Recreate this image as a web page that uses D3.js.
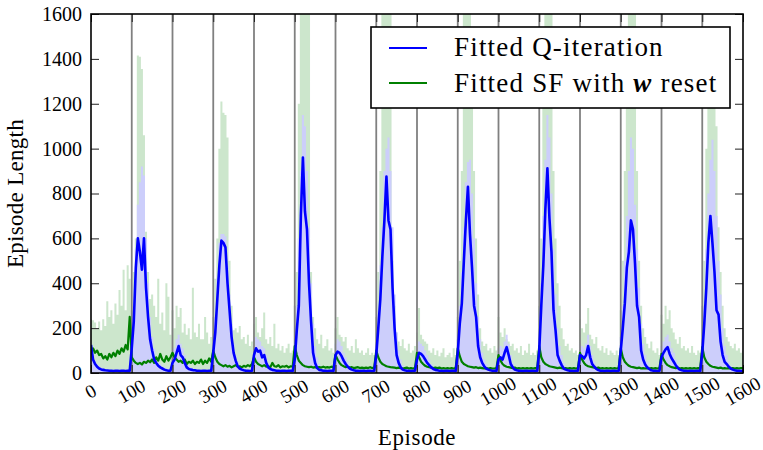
<!DOCTYPE html>
<html>
<head>
<meta charset="utf-8">
<script src="https://cdn.jsdelivr.net/npm/d3@7"></script>
<style>
  body { margin: 0; background: #fff; }
  svg { display: block; }
  text { font-family: "Liberation Serif", "Times New Roman", serif; fill: #000; }
</style>
</head>
<body>
<svg id="chart" width="763" height="450"></svg>
<script>
// episodes are sampled every 5 steps
const episodes = d3.range(0, 1601, 5);

// Fitted Q-iteration: mean episode length
const qMean = [
  125,60,40,28,20,16,14,12,11,10,10,9,10,10,9,10,10,9,10,9,
  110,230,470,600,540,460,600,380,250,150,100,60,45,32,25,20,15,12,10,10,
  45,60,90,120,80,70,45,25,18,15,13,12,10,10,9,10,10,9,10,10,
  90,180,330,480,590,580,560,400,280,160,90,55,30,20,15,12,10,10,9,10,
  80,110,95,100,70,80,45,25,18,14,12,10,10,9,10,10,9,10,10,9,
  60,190,300,700,960,720,640,400,230,90,45,22,14,12,10,10,9,10,10,9,
  80,95,90,75,55,40,28,20,15,12,10,10,9,10,10,9,10,10,9,10,
  80,200,330,520,680,875,680,640,380,200,80,45,25,15,12,10,10,9,10,10,
  60,90,85,75,60,45,35,25,18,14,12,10,10,9,10,10,9,10,10,9,
  90,220,310,500,680,830,620,470,300,250,120,70,45,30,20,15,12,10,10,9,
  60,70,60,90,115,80,40,25,15,12,10,10,9,10,10,9,10,10,9,10,
  100,300,480,730,912,690,540,280,190,80,55,35,20,15,12,10,10,9,10,10,
  80,75,65,80,120,70,40,28,18,13,10,10,9,10,10,9,10,10,9,10,
  100,200,310,470,540,680,640,490,300,250,100,60,38,25,18,12,10,10,9,10,
  70,90,105,115,85,65,50,35,22,15,12,10,10,9,10,10,9,10,10,9,
  90,220,380,580,700,580,450,280,260,140,80,50,40,28,20,15,12,10,10,9,
  10
];

// Fitted Q-iteration: top of the shaded band
const qUpper = [
  140,80,55,40,30,25,20,18,16,15,15,15,15,15,15,15,15,15,15,15,
  150,300,550,750,850,920,880,600,400,250,160,110,70,50,40,30,25,20,18,16,
  80,110,150,170,130,110,80,50,35,25,20,18,15,15,15,15,15,15,15,15,
  150,250,420,580,620,620,610,480,350,220,130,80,50,35,25,20,16,15,15,15,
  120,160,150,140,120,110,80,45,30,22,18,15,15,15,15,15,15,15,15,15,
  120,300,600,900,1150,1100,900,650,400,220,120,70,40,25,18,15,15,15,15,15,
  130,150,140,120,90,70,50,35,25,20,16,15,15,15,15,15,15,15,15,15,
  130,280,480,650,900,1000,1050,900,650,350,180,100,60,35,25,18,15,15,15,15,
  110,140,130,120,100,80,60,40,30,22,18,15,15,15,15,15,15,15,15,15,
  150,300,450,650,850,940,950,800,600,400,250,150,90,60,40,25,18,15,15,15,
  110,120,110,140,170,130,80,45,28,20,16,15,15,15,15,15,15,15,15,15,
  160,400,700,950,1150,1050,800,550,350,200,120,80,45,30,20,16,15,15,15,15,
  130,120,110,130,170,120,80,50,30,20,16,15,15,15,15,15,15,15,15,15,
  160,300,500,700,900,1050,1000,750,550,380,220,130,80,50,30,20,16,15,15,15,
  120,140,160,170,140,110,90,60,40,25,18,15,15,15,15,15,15,15,15,15,
  150,300,550,800,950,1040,900,700,500,350,200,120,80,50,30,22,18,15,15,15,
  15
];

// Fitted SF with w reset: mean episode length
const sfMean = [
  95,110,90,100,80,85,65,75,60,85,70,90,75,100,85,110,95,125,105,250,
  70,55,45,40,45,38,50,45,55,48,60,45,70,55,85,60,50,75,55,70,
  90,70,60,50,55,45,60,40,50,45,55,40,50,45,60,40,55,45,65,50,
  100,70,50,40,35,30,35,28,32,25,30,35,28,30,25,32,28,35,30,40,
  70,50,40,35,30,35,28,30,25,45,30,28,35,25,30,28,32,25,30,28,
  120,80,55,45,35,30,28,26,28,24,26,24,26,24,28,24,26,24,28,24,
  80,60,45,35,30,26,28,24,26,22,24,26,22,24,22,24,22,26,22,24,
  100,70,50,40,35,30,28,26,25,24,22,24,22,20,22,24,20,22,20,22,
  90,70,50,40,32,28,26,24,22,24,22,24,20,22,20,22,20,22,20,22,
  110,75,50,40,35,30,28,26,24,26,22,24,22,20,22,20,22,20,20,22,
  80,55,40,32,28,26,24,22,24,20,22,20,22,20,22,20,22,20,22,20,
  120,70,50,40,35,30,28,26,24,22,24,22,20,22,20,22,20,22,20,22,
  90,60,45,35,30,28,26,24,22,24,20,22,20,22,20,22,20,22,20,22,
  110,70,50,40,32,28,26,24,22,24,20,22,20,22,20,22,20,22,20,22,
  85,60,45,35,30,26,24,22,24,20,22,20,22,20,22,20,22,20,22,20,
  115,70,50,40,32,28,26,24,22,24,20,22,20,22,20,22,20,22,20,22,
  22
];

// Fitted SF with w reset: top of the shaded band
const sfUpper = [
  240,235,225,200,230,190,240,210,320,250,280,220,310,260,370,300,460,280,480,420,
  280,450,600,1415,1410,1355,1060,630,450,330,350,300,250,420,220,270,190,400,340,170,
  280,200,300,250,290,180,220,170,200,150,380,180,160,220,150,150,250,180,130,160,
  250,420,600,1000,1210,1160,1150,1050,500,300,190,200,180,210,150,160,130,170,120,140,
  220,250,180,160,200,270,150,130,160,120,220,110,130,100,120,90,110,130,90,100,
  300,450,1200,1700,1700,1700,1700,1700,450,250,200,150,130,170,110,120,150,100,110,90,
  200,250,170,160,140,160,110,100,120,90,150,110,90,100,80,90,110,80,90,80,
  250,450,900,1700,1700,1700,1700,1700,500,300,180,140,120,150,110,100,130,90,100,120,
  180,290,170,150,140,130,100,90,110,80,100,75,90,110,70,80,90,70,110,80,
  250,500,900,1700,1700,1700,1700,1300,900,600,350,200,140,120,130,100,110,90,120,100,
  250,180,160,200,150,140,120,130,100,110,90,120,80,100,90,130,80,90,80,100,
  300,600,1300,1700,1700,1700,1700,900,600,400,300,200,150,120,130,100,110,90,100,80,
  240,200,180,220,290,170,150,130,160,110,100,120,90,110,80,100,90,80,100,80,
  280,500,900,1400,1700,1700,1700,1700,900,500,300,200,160,130,110,140,100,90,110,80,
  260,220,300,240,280,200,180,150,130,160,110,120,100,110,90,120,90,80,100,90,
  300,500,1000,1450,1450,1400,1300,1100,650,450,300,200,160,140,120,110,130,100,110,90,
  100
];

const xTicks = d3.range(0, 1601, 100);
const yTicks = d3.range(0, 1601, 200);
const resets = d3.range(100, 1600, 100);
const legendNames = ["Fitted Q-iteration", "Fitted SF with ", " reset"];

const svg = d3.select("#chart");
const plotLeft = 91, plotRight = 743, plotTop = 14, plotBottom = 373;
const serif = "Liberation Serif";

const x = d3.scaleLinear().domain([0, 1600]).range([plotLeft, plotRight]);
const y = d3.scaleLinear().domain([0, 1600]).range([plotBottom, plotTop]);

svg.append("clipPath").attr("id", "plotclip")
   .append("rect")
   .attr("x", plotLeft).attr("y", plotTop)
   .attr("width", plotRight - plotLeft).attr("height", plotBottom - plotTop);

const plot = svg.append("g").attr("clip-path", "url(#plotclip)");

// shaded bands (blue drawn on top, like the reference)
const band = d3.area()
    .x((d, i) => x(episodes[i]))
    .y0(y(0))
    .y1(d => y(d))
    .curve(d3.curveStep);

plot.append("path").datum(sfUpper)
    .attr("d", band)
    .attr("fill", "#008000").attr("fill-opacity", 0.2);

plot.append("path").datum(qUpper)
    .attr("d", band)
    .attr("fill", "#ccccff").attr("fill-opacity", 0.92);

// reset markers every 100 episodes
plot.selectAll(".reset")
    .data(resets)
    .enter()
    .append("line")
    .attr("class", "reset")
    .attr("x1", d => x(d)).attr("x2", d => x(d))
    .attr("y1", plotTop).attr("y2", plotBottom)
    .attr("stroke", "#808080").attr("stroke-width", 1.8);

const line = d3.line()
    .x((d, i) => x(episodes[i]))
    .y(d => y(d));

plot.append("path").datum(sfMean)
    .attr("d", line)
    .attr("fill", "none")
    .attr("stroke", "#008000").attr("stroke-width", 2.2)
    .attr("stroke-linejoin", "round");

plot.append("path").datum(qMean)
    .attr("d", line)
    .attr("fill", "none")
    .attr("stroke", "#0000ff").attr("stroke-width", 2.6)
    .attr("stroke-linejoin", "round");

// axes with inward ticks on all four sides
function styleAxis(g) {
  g.attr("font-family", serif).attr("font-size", 20);
  g.select(".domain").remove();
  g.selectAll(".tick line").attr("stroke", "#222").attr("stroke-width", 1);
}

svg.append("g")
   .attr("transform", `translate(${plotLeft},0)`)
   .call(d3.axisLeft(y).tickValues(yTicks).tickSize(-8).tickPadding(9).tickFormat(d3.format("d")))
   .call(styleAxis);

svg.append("g")
   .attr("transform", `translate(${plotRight},0)`)
   .call(d3.axisRight(y).tickValues(yTicks).tickSize(-8).tickFormat(""))
   .call(styleAxis);

svg.append("g")
   .attr("transform", `translate(0,${plotTop})`)
   .call(d3.axisTop(x).tickValues(xTicks).tickSize(-8).tickFormat(""))
   .call(styleAxis);

svg.append("g")
   .attr("transform", `translate(0,${plotBottom})`)
   .call(d3.axisBottom(x).tickValues(xTicks).tickSize(-8).tickFormat(d3.format("d")))
   .call(styleAxis)
   .call(g => g.selectAll("text")
       .style("font-size", "19px")
       .attr("text-anchor", "middle")
       .attr("y", 0).attr("dy", "0.35em")
       .attr("transform", "translate(-1,18) rotate(-30)"));

// frame
svg.append("rect")
   .attr("x", plotLeft).attr("y", plotTop)
   .attr("width", plotRight - plotLeft).attr("height", plotBottom - plotTop)
   .attr("fill", "none").attr("stroke", "#000").attr("stroke-width", 1.6);

// axis titles
svg.append("text")
   .attr("x", (plotLeft + plotRight) / 2).attr("y", 445)
   .attr("text-anchor", "middle")
   .style("font-size", "23px")
   .style("letter-spacing", "0.6px")
   .text("Episode");

svg.append("text")
   .attr("transform", `translate(23,${(plotTop + plotBottom) / 2}) rotate(-90)`)
   .attr("text-anchor", "middle")
   .style("font-size", "23px")
   .style("letter-spacing", "0.3px")
   .text("Episode Length");

// legend
const legend = svg.append("g");
legend.append("rect")
   .attr("x", 371).attr("y", 27).attr("width", 359).attr("height", 81)
   .attr("fill", "#fff").attr("stroke", "#000").attr("stroke-width", 1.6);

legend.append("line")
   .attr("x1", 389).attr("x2", 427).attr("y1", 48).attr("y2", 48)
   .attr("stroke", "#0000ff").attr("stroke-width", 2);
legend.append("line")
   .attr("x1", 389).attr("x2", 427).attr("y1", 83).attr("y2", 83)
   .attr("stroke", "#008000").attr("stroke-width", 2);

legend.append("text")
   .attr("x", 454).attr("y", 56)
   .style("font-size", "27px")
   .style("letter-spacing", "1.2px")
   .text(legendNames[0]);

const t2 = legend.append("text")
   .attr("x", 454).attr("y", 92)
   .style("font-size", "27px")
   .style("letter-spacing", "1.2px");
t2.append("tspan").text(legendNames[1]);
t2.append("tspan").attr("font-weight", "bold").attr("font-style", "italic").text("w");
t2.append("tspan").text(legendNames[2]);
</script>
</body>
</html>
